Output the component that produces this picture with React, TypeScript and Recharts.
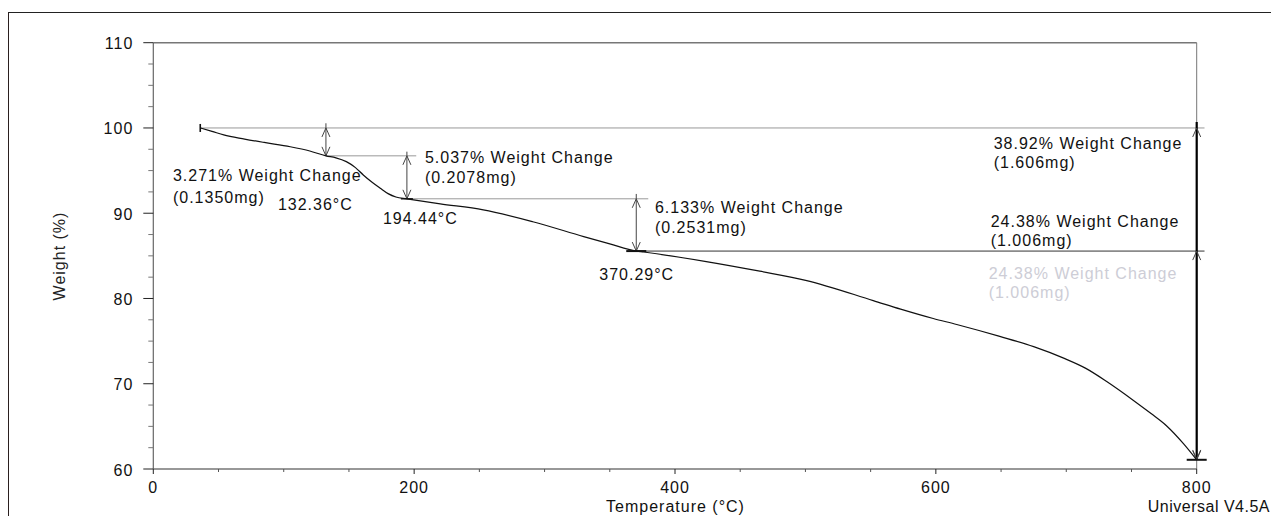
import React from "react";
import { LineChart, Line, XAxis, YAxis, ReferenceLine, ReferenceDot } from "recharts";

// TGA curve
const temperature = [
  36, 45, 54, 70, 85, 105, 120, 132.36, 140, 148, 155, 161, 168, 174, 180, 186,
  194.44, 220, 253, 291, 330, 350, 370.29, 376, 424, 465, 501, 552, 573, 598,
  616, 649, 675, 698, 715, 731, 751, 765, 777, 790, 800,
];
const weight = [
  100, 99.6, 99.18, 98.7, 98.3, 97.8, 97.3, 96.73, 96.5, 96.05, 95.35, 94.49,
  93.6, 92.93, 92.3, 91.9, 91.69, 91.1, 90.39, 89.0, 87.26, 86.4, 85.56, 85.45,
  84.33, 83.2, 82.1, 79.75, 78.75, 77.65, 76.95, 75.55, 74.35, 73.0, 71.8,
  70.26, 68.1, 66.5, 65.05, 62.95, 61.08,
];

const xTicks = [0, 50, 100, 150, 200, 250, 300, 350, 400, 450, 500, 550, 600, 650, 700, 750, 800];
const yTicks = [60, 62.5, 65, 67.5, 70, 72.5, 75, 77.5, 80, 82.5, 85, 87.5, 90, 92.5, 95, 97.5, 100, 102.5, 105, 107.5, 110];

// step analysis
const stepTemps = [132.36, 194.44, 370.29];
const levels = [100, 96.73, 91.69, 85.56];
const levelStart = [36, 132.36, 194.44, 370.29];
const levelEnd = [806, 201.6, 379.5, 806];
const arrowTop = [100.55, 97.22, 92.26];
const finalTemp = 800;
const finalWeight = [61.08, 61.18];

const changeText = ["3.271% Weight Change", "5.037% Weight Change", "6.133% Weight Change", "38.92% Weight Change", "24.38% Weight Change"];
const massText = ["(0.1350mg)", "(0.2078mg)", "(0.2531mg)", "(1.606mg)", "(1.006mg)"];
const onsetText = ["132.36°C", "194.44°C", "370.29°C"];

const data = temperature.map((t, i) => ({ t, w: weight[i] }));

const FONT = '"Liberation Sans", Arial, sans-serif';
const txt = { fontFamily: FONT, fontSize: 16, letterSpacing: 1, fill: "#111" };

// pixel offsets of the note blocks from their anchor points
const changeAnchor = [
  { x: stepTemps[0], y: levels[1], dx: -153, dy: 20, dy2: 41.5 },
  { x: stepTemps[1], y: levels[2], dx: 18, dy: -41, dy2: -21 },
  { x: stepTemps[2], y: levels[3], dx: 18.7, dy: -44, dy2: -24 },
  { x: finalTemp, y: levels[0], dx: -203, dy: 16, dy2: 35 },
  { x: finalTemp, y: levels[3], dx: -206, dy: -29.5, dy2: -11 },
];
const onsetOffset = [
  { dx: -48, dy: 49 },
  { dx: -24, dy: 20 },
  { dx: -37, dy: 23 },
];

function head(x: number, y: number, a: number) {
  const L = 9;
  const H = 4;
  const bx = x - L * Math.cos(a);
  const by = y - L * Math.sin(a);
  const px = -Math.sin(a) * H;
  const py = Math.cos(a) * H;
  return `M${bx + px},${by + py}L${x},${y}L${bx - px},${by - py}`;
}

const arrow =
  (o: { start?: boolean; end?: boolean; color?: string; width?: number; line?: boolean }) =>
  (p: any) => {
    const { x1, y1, x2, y2 } = p;
    const c = o.color || "#444";
    return (
      <g>
        {o.line !== false && (
          <line x1={x1} y1={y1} x2={x2} y2={y2} stroke={c} strokeWidth={o.width || 1} />
        )}
        {o.start && <path d={head(x1, y1, Math.atan2(y1 - y2, x1 - x2))} fill="none" stroke="#444" strokeWidth={1} />}
        {o.end && <path d={head(x2, y2, Math.atan2(y2 - y1, x2 - x1))} fill="none" stroke="#444" strokeWidth={1} />}
      </g>
    );
  };

const note = (lines: { s: string; dx: number; dy: number; fill?: string }[]) => (p: any) => (
  <g>
    {lines.map((l, i) => (
      <text key={i} x={p.cx + l.dx} y={p.cy + l.dy} dominantBaseline="central" {...txt} fill={l.fill || "#111"}>
        {l.s}
      </text>
    ))}
  </g>
);

const dash = (w: number, h: number, thick: number) => (p: any) => (
  <g>
    {w > 0 && <line x1={p.cx - w / 2} y1={p.cy} x2={p.cx + w / 2} y2={p.cy} stroke="#111" strokeWidth={thick} />}
    {h > 0 && <line x1={p.cx} y1={p.cy - h / 2} x2={p.cx} y2={p.cy + h / 2} stroke="#111" strokeWidth={thick} />}
  </g>
);

const XTick = (p: any) => {
  const v = p.payload.value;
  const major = v % 200 === 0;
  return (
    <g>
      <line x1={p.x} y1={p.y} x2={p.x} y2={p.y + (major ? 5 : 3)} stroke={major ? "#222" : "#555"} />
      {major && (
        <text x={p.x} y={p.y + 18} textAnchor="middle" dominantBaseline="central" {...txt}>
          {v}
        </text>
      )}
    </g>
  );
};

const YTick = (p: any) => {
  const v = p.payload.value;
  const major = v % 10 === 0;
  return (
    <g>
      <line x1={p.x - (major ? 10 : 5)} y1={p.y} x2={p.x} y2={p.y} stroke={major ? "#222" : "#777"} />
      {major && (
        <text x={p.x - 20} y={p.y + 1} textAnchor="end" dominantBaseline="central" {...txt}>
          {v}
        </text>
      )}
    </g>
  );
};

export default function App() {
  return (
    <div
      style={{
        position: "fixed",
        left: 0,
        top: 0,
        width: 1271,
        height: 516,
        overflow: "hidden",
        background: "#fff",
        fontFamily: FONT,
      }}
    >
      <div
        style={{
          position: "absolute",
          left: 8,
          top: 12,
          right: 0,
          bottom: 0,
          borderTop: "1px solid #222",
          borderLeft: "1px solid #2a1f1f",
        }}
      />
      <div style={{ position: "absolute", left: 0, top: 0 }}>
        <LineChart width={1271} height={516} data={data} margin={{ top: 42.7, right: 74.3, bottom: 17, left: 93.3 }}>
          <XAxis
            dataKey="t"
            type="number"
            domain={[0, 800]}
            ticks={xTicks}
            interval={0}
            tickSize={0}
            tickMargin={0}
            tickLine={false}
            tick={<XTick />}
            height={30}
            axisLine={{ stroke: "#333", strokeWidth: 1.2 }}
          />
          <YAxis
            type="number"
            domain={[60, 110]}
            ticks={yTicks}
            interval={0}
            tickSize={0}
            tickMargin={0}
            tickLine={false}
            tick={<YTick />}
            width={60}
            axisLine={{ stroke: "#666", strokeWidth: 1.2 }}
          />
          <ReferenceLine y={110} stroke="#777" strokeWidth={1.5} />
          <ReferenceLine x={800} stroke="#777" strokeWidth={1} />

          {levels.map((w, i) => (
            <ReferenceLine
              key={"lv" + i}
              ifOverflow="visible"
              segment={[
                { x: levelStart[i], y: w },
                { x: levelEnd[i], y: w },
              ]}
              stroke={i === 3 ? "#333" : "#999"}
              strokeWidth={1}
            />
          ))}

          {stepTemps.map((t, i) => (
            <ReferenceLine
              key={"ext" + i}
              segment={[
                { x: t, y: arrowTop[i] },
                { x: t, y: levels[i] },
              ]}
              shape={arrow({ color: "#444" })}
            />
          ))}
          {stepTemps.map((t, i) => (
            <ReferenceLine
              key={"ar" + i}
              segment={[
                { x: t, y: levels[i] },
                { x: t, y: levels[i + 1] },
              ]}
              shape={arrow({ start: true, end: true, color: "#444" })}
            />
          ))}

          <ReferenceLine
            ifOverflow="visible"
            segment={[
              { x: finalTemp, y: 100.7 },
              { x: finalTemp, y: finalWeight[0] },
            ]}
            shape={arrow({ color: "#000", width: 2.2 })}
          />
          <ReferenceLine
            segment={[
              { x: finalTemp, y: levels[0] },
              { x: finalTemp, y: finalWeight[0] },
            ]}
            shape={arrow({ start: true, end: true, line: false })}
          />
          <ReferenceLine
            segment={[
              { x: finalTemp, y: levels[3] },
              { x: finalTemp, y: finalWeight[1] },
            ]}
            shape={arrow({ start: true, end: true, line: false })}
          />

          <Line type="monotone" dataKey="w" dot={false} stroke="#111" strokeWidth={1.2} isAnimationActive={false} />

          <ReferenceDot x={temperature[0]} y={weight[0]} r={1} shape={dash(0, 8, 1.6)} />
          <ReferenceDot x={stepTemps[1]} y={levels[2]} r={1} shape={dash(12, 0, 1.4)} />
          <ReferenceDot x={stepTemps[2]} y={levels[3]} r={1} shape={dash(20, 0, 2)} />
          <ReferenceDot x={finalTemp} y={finalWeight[0]} r={1} ifOverflow="visible" shape={dash(20, 0, 2)} />

          {changeAnchor.map((a, i) => (
            <ReferenceDot
              key={"cn" + i}
              x={a.x}
              y={a.y}
              r={1}
              ifOverflow="visible"
              shape={note([
                { s: changeText[i], dx: a.dx, dy: a.dy },
                { s: massText[i], dx: a.dx, dy: a.dy2 },
              ])}
            />
          ))}
          <ReferenceDot
            x={finalTemp}
            y={levels[3]}
            r={1}
            ifOverflow="visible"
            shape={note([
              { s: changeText[4], dx: -208, dy: 22, fill: "#cdcdd6" },
              { s: massText[4], dx: -208, dy: 41.5, fill: "#cdcdd6" },
            ])}
          />
          {stepTemps.map((t, i) => (
            <ReferenceDot
              key={"on" + i}
              x={t}
              y={levels[i + 1]}
              r={1}
              shape={note([{ s: onsetText[i], dx: onsetOffset[i].dx, dy: onsetOffset[i].dy }])}
            />
          ))}
        </LineChart>
      </div>
      <div
        style={{
          position: "absolute",
          left: 60,
          top: 256,
          transform: "translate(-50%, -50%) rotate(-90deg)",
          fontSize: 16,
          letterSpacing: 1,
          whiteSpace: "nowrap",
          color: "#222",
          lineHeight: "18px",
        }}
      >
        Weight (%)
      </div>
      <div
        style={{
          position: "absolute",
          left: 675.5,
          top: 507,
          transform: "translate(-50%, -50%)",
          fontSize: 16,
          letterSpacing: 1,
          whiteSpace: "nowrap",
          color: "#111",
          lineHeight: "18px",
        }}
      >
        Temperature (°C)
      </div>
      <div
        style={{
          position: "absolute",
          right: 1,
          top: 507,
          transform: "translateY(-50%)",
          fontSize: 16,
          letterSpacing: 0.5,
          whiteSpace: "nowrap",
          color: "#111",
          lineHeight: "18px",
        }}
      >
        Universal V4.5A
      </div>
    </div>
  );
}
